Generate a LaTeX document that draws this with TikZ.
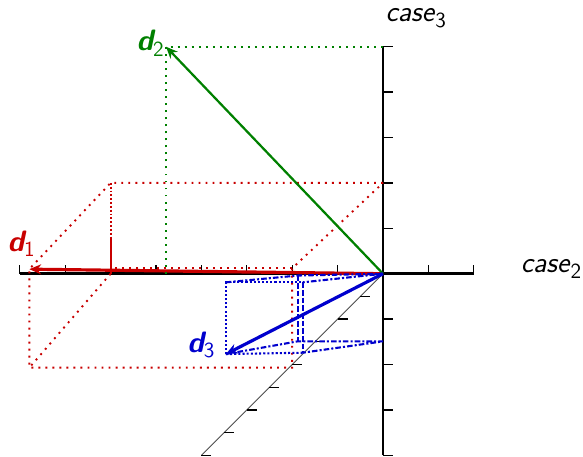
\documentclass[tikz,border=0pt]{standalone}
\usepackage{tikz}
\usetikzlibrary{arrows.meta}
\definecolor{docred}{RGB}{200,0,0}
\definecolor{docgreen}{RGB}{0,128,0}
\definecolor{docblue}{RGB}{0,0,205}
\newcommand{\idx}[1]{\raisebox{-0.45ex}{\fontsize{13.5}{15}\selectfont\upshape\mdseries #1}}
\tikzstyle{axis} = [black, line width=1.6pt]
\tikzstyle{tick} = [black, line width=0.8pt]
\tikzstyle{vec} = [line width=2pt, -{Stealth[length=2.6mm,width=2.2mm]}]
\tikzstyle{proj} = [line width=1.2pt, dash pattern=on 1.2pt off 3.2pt]
\tikzstyle{bdot} = [docblue, line width=1.3pt, dash pattern=on 1.3pt off 1.3pt]
\tikzstyle{bdash} = [docblue, line width=1.3pt, dash pattern=on 3.5pt off 1.3pt]
\tikzstyle{bdashdot} = [docblue, line width=1.3pt, dash pattern=on 3.5pt off 1.3pt on 1.3pt off 1.3pt]

\begin{document}
\begin{tikzpicture}[every node/.style={font=\sffamily\fontsize{18.5}{22}\selectfont, inner sep=1pt}]
\useasboundingbox (-8.436,-4.015) rectangle (4.405,6.029);
% Axes
\coordinate (O) at (0,0);
\draw[gray!60!black, line width=0.6pt] (O) -- (-4,-4);
\draw[axis] (-8,0) -- (2,0);
\draw[axis] (0,-4) -- (0,5);
\foreach \i in {-8,-7,-6,-5,-4,-3,-2,-1,1,2} \draw[tick] (\i,0) -- ++(0,0.2);
\foreach \i in {-4,-3,-2,-1,1,2,3,4,5} \draw[tick] (0,\i) -- ++(0.22,0);
\foreach \i in {1,...,8} \draw[tick] (-0.5*\i,-0.5*\i) -- ++(0.22,0);
\node (case3) at (0.72,5.62) {\textit{case}\idx{3}};
\node (case2) at (3.7,0.1) {\textit{case}\idx{2}};

% d1
\coordinate (d1) at (-7.79,0.10);
\coordinate (r3) at (0,2);
\coordinate (r23) at (-6,2);
\coordinate (r2) at (-6,0);
\coordinate (r2b) at (-6,0.12);
\coordinate (r2m) at (-6,0.78);
\coordinate (r1) at (-2,0.12);
\coordinate (r1b) at (-2,-2.07);
\coordinate (r12) at (-7.79,-2.07);
\draw[docred, proj] (r3) -- (r23) -- (d1) -- (r12) -- (r1b) -- (r1) -- (r3);
\draw[docred, proj] (r2) -- (r12);
\draw[docred, proj] (r1) -- (r2b);
\draw[docred, line width=1.2pt, dash pattern=on 1.2pt off 1.2pt] (r23) -- (r2m);
\draw[docred, line width=1.3pt] (r2m) -- (r2);
\draw[docred, vec] (O) -- (d1);
\node[docred] (d1label) at (-7.97,0.66) {{\bfseries\itshape d}\idx{1}};

% d2
\coordinate (d2) at (-4.78,5);
\coordinate (g3) at (0,5);
\coordinate (g2) at (-4.78,0);
\draw[docgreen, proj] (g2) -- (d2) -- (g3);
\draw[docgreen, vec, line width=1.4pt] (O) -- (d2);
\node[docgreen] (d2label) at (-5.13,5.08) {{\bfseries\itshape d}\idx{2}};

% d3
\coordinate (d3) at (-3.46,-1.77);
\coordinate (b2) at (-3.46,-0.19);
\coordinate (b3) at (-1.88,-0.04);
\coordinate (b4) at (-1.77,-0.19);
\coordinate (b5) at (-1.88,-1.49);
\coordinate (b6) at (-1.77,-1.74);
\coordinate (b7) at (0,-1.49);
\draw[bdot] (d3) -- (b2) -- (b4);
\draw[bdot] (d3) -- (b6);
\draw[bdashdot] (b2) -- (b3) -- (O) -- (b4);
\draw[bdashdot] (d3) -- (b5) -- (b7) -- (b6);
\draw[bdash] (b3) -- (b5);
\draw[bdash] (b4) -- (b6);
\draw[docblue, vec] (O) -- (d3);
\node[docblue] (d3label) at (-4.01,-1.57) {{\bfseries\itshape d}\idx{3}};
\end{tikzpicture}
\end{document}
